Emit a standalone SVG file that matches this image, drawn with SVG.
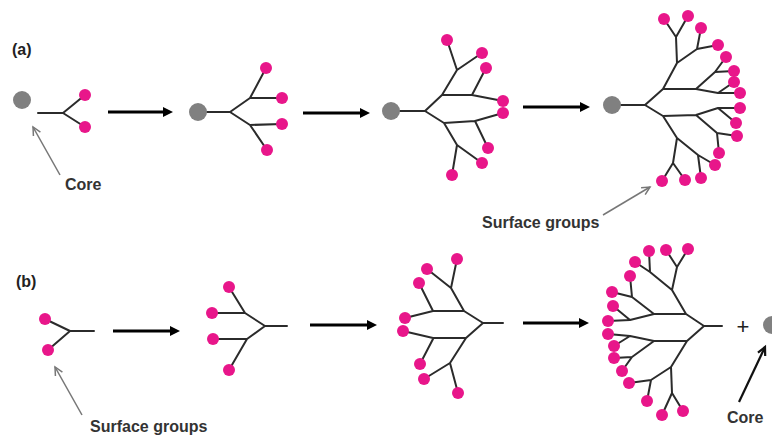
<svg xmlns="http://www.w3.org/2000/svg" width="772" height="435" viewBox="0 0 772 435">
<style>
.b{stroke:#2b2b2b;stroke-width:2;fill:none;stroke-linecap:round;stroke-linejoin:round}
.p{fill:#e8168a}
.c{fill:#808080}
.t{font-family:"Liberation Sans",Arial,sans-serif;font-weight:bold;font-size:16px;fill:#333}
.lbl{font-family:"Liberation Sans",Arial,sans-serif;font-weight:bold;font-size:16px;fill:#222}
.arr{stroke:#000;stroke-width:3;fill:none}
.ptr{stroke:#777;stroke-width:1.5;fill:none}
.ptrb{stroke:#111;stroke-width:2.2;fill:none}
</style>
<defs>
<marker id="ah" markerUnits="userSpaceOnUse" markerWidth="11" markerHeight="11" refX="0" refY="5.5" orient="auto">
<path d="M0,0.5 L10,5.5 L0,10.5 z" fill="#000"/>
</marker>
<marker id="ap" markerUnits="userSpaceOnUse" markerWidth="12" markerHeight="12" refX="9" refY="5" orient="auto">
<path d="M1,1 L9,5 L1,9" fill="none" stroke="#777" stroke-width="1.5"/>
</marker>
<marker id="apb" markerUnits="userSpaceOnUse" markerWidth="12" markerHeight="12" refX="9" refY="5" orient="auto">
<path d="M1,1 L9,5 L1,9" fill="none" stroke="#111" stroke-width="2.2"/>
</marker>
</defs>

<text class="lbl" x="12" y="55">(a)</text>
<text class="lbl" x="16" y="287">(b)</text>

<g id="a1">
<circle class="c" cx="22" cy="100" r="9"/>
<path class="b" d="M38,113 H63 L85,95 M63,113 L85,127"/>
<circle class="p" cx="85" cy="95" r="6"/><circle class="p" cx="85" cy="127" r="6"/>
</g>

<g id="a2">
<path class="b" d="M198,112 H230 L250,98 L266,68 M250,98 H282 M230,112 L250,125 L282,124 M250,125 L267,150"/>
<circle class="c" cx="198" cy="112" r="9"/>
<circle class="p" cx="266" cy="68" r="6"/><circle class="p" cx="282" cy="98" r="6"/><circle class="p" cx="282" cy="124" r="6"/><circle class="p" cx="267" cy="150" r="6"/>
</g>

<g id="a3">
<path class="b" d="M391,111 H425 L442,95 L457,70 L447,40 M457,70 L482,53 M442,95 H472 L486,68 M472,95 L503,101 M425,111 L444,123 L475,121 L503,113 M475,121 L488,148 M444,123 L457,145 L482,163 M457,145 L452,175"/>
<circle class="c" cx="391" cy="111" r="9"/>
<circle class="p" cx="447" cy="40" r="6"/><circle class="p" cx="482" cy="53" r="6"/><circle class="p" cx="486" cy="68" r="6"/><circle class="p" cx="503" cy="101" r="6"/>
<circle class="p" cx="503" cy="113" r="6"/><circle class="p" cx="488" cy="148" r="6"/><circle class="p" cx="482" cy="163" r="6"/><circle class="p" cx="452" cy="175" r="6"/>
</g>

<g id="a4">
<path class="b" d="M612,105 H645 L663,89 L677,63 L676,37 L664,19 M676,37 L688,16 M677,63 L697,49 L701,28 M697,49 L718,45 M663,89 L696,89 L715,72 L726,57 M715,72 L734,71 M696,89 L718,93 L734,82 M718,93 L740,93 M645,105 L663,116 L696,115 L718,108 L740,108 M718,108 L736,123 M696,115 L717,133 L737,136 M717,133 L719,153 M663,116 L677,138 L673,163 L662,181 M673,163 L685,180 M677,138 L698,155 L701,178 M698,155 L715,165"/>
<circle class="c" cx="612" cy="105" r="9"/>
<circle class="p" cx="664" cy="19" r="6"/><circle class="p" cx="688" cy="16" r="6"/><circle class="p" cx="701" cy="28" r="6"/><circle class="p" cx="718" cy="45" r="6"/>
<circle class="p" cx="726" cy="57" r="6"/><circle class="p" cx="734" cy="71" r="6"/><circle class="p" cx="734" cy="82" r="6"/><circle class="p" cx="740" cy="93" r="6"/>
<circle class="p" cx="740" cy="108" r="6"/><circle class="p" cx="736" cy="123" r="6"/><circle class="p" cx="737" cy="136" r="6"/><circle class="p" cx="719" cy="153" r="6"/>
<circle class="p" cx="715" cy="165" r="6"/><circle class="p" cx="701" cy="178" r="6"/><circle class="p" cx="685" cy="180" r="6"/><circle class="p" cx="662" cy="181" r="6"/>
</g>

<g id="b1">
<path class="b" d="M45,319 L70,331 L48,350 M70,331 H94"/>
<circle class="p" cx="45" cy="319" r="6"/><circle class="p" cx="48" cy="350" r="6"/>
</g>

<g id="b2">
<path class="b" d="M287,326 H265 L245,313 L229,287 M245,313 H212 M265,326 L247,339 H213 M247,339 L229,370"/>
<circle class="p" cx="229" cy="287" r="6"/><circle class="p" cx="212" cy="313" r="6"/><circle class="p" cx="213" cy="339" r="6"/><circle class="p" cx="229" cy="370" r="6"/>
</g>

<g id="b3">
<path class="b" d="M503,323 H483 L464,311 H433 L419,283 M433,311 L405,318 M464,311 L451,288 L457,259 M451,288 L427,269 M483,323 L466,338 H433 L403,331 M433,339 L420,364 M466,338 L450,363 L424,379 M450,363 L458,393"/>
<circle class="p" cx="457" cy="259" r="6"/><circle class="p" cx="427" cy="269" r="6"/><circle class="p" cx="419" cy="283" r="6"/><circle class="p" cx="405" cy="318" r="6"/>
<circle class="p" cx="403" cy="331" r="6"/><circle class="p" cx="420" cy="364" r="6"/><circle class="p" cx="424" cy="379" r="6"/><circle class="p" cx="458" cy="393" r="6"/>
</g>

<g id="b4">
<path class="b" d="M722,326 H704 L686,314 L672,290 L677,267 L666,250 M677,267 L688,249 M672,290 L650,272 L635,262 M650,272 L649,251 M686,314 H654 L632,297 L630,276 M632,297 L612,292 M654,314 L630,320 L613,306 M630,320 L608,321 M704,326 L687,341 H654 L630,336 L608,334 M630,336 L614,346 M654,341 L632,357 L614,358 M632,357 L622,371 M687,341 L671,367 L651,380 L629,383 M651,380 L647,401 M671,367 L672,393 L662,415 M672,393 L683,411"/>
<circle class="p" cx="666" cy="250" r="6"/><circle class="p" cx="688" cy="249" r="6"/><circle class="p" cx="635" cy="262" r="6"/><circle class="p" cx="649" cy="251" r="6"/>
<circle class="p" cx="630" cy="276" r="6"/><circle class="p" cx="612" cy="292" r="6"/><circle class="p" cx="613" cy="306" r="6"/><circle class="p" cx="608" cy="321" r="6"/>
<circle class="p" cx="608" cy="334" r="6"/><circle class="p" cx="614" cy="346" r="6"/><circle class="p" cx="614" cy="358" r="6"/><circle class="p" cx="622" cy="371" r="6"/>
<circle class="p" cx="629" cy="383" r="6"/><circle class="p" cx="647" cy="401" r="6"/><circle class="p" cx="662" cy="415" r="6"/><circle class="p" cx="683" cy="411" r="6"/>
</g>

<g id="plus">
<text x="743" y="334" text-anchor="middle" style="font-family:'Liberation Sans',Arial,sans-serif;font-size:22px;fill:#222">+</text>
</g>

<g id="core-b">
<circle class="c" cx="772" cy="325" r="9"/>
</g>

<g id="connectors">
<line class="arr" x1="108" y1="112" x2="163" y2="112" marker-end="url(#ah)"/>
<line class="arr" x1="303" y1="113" x2="360" y2="113" marker-end="url(#ah)"/>
<line class="arr" x1="523" y1="107" x2="580" y2="107" marker-end="url(#ah)"/>
<line class="arr" x1="113" y1="331" x2="170" y2="331" marker-end="url(#ah)"/>
<line class="arr" x1="310" y1="325" x2="367" y2="325" marker-end="url(#ah)"/>
<line class="arr" x1="523" y1="323" x2="579" y2="323" marker-end="url(#ah)"/>
<line class="ptr" x1="60" y1="175" x2="33" y2="127" marker-end="url(#ap)"/>
<line class="ptr" x1="603" y1="215" x2="650" y2="187" marker-end="url(#ap)"/>
<line class="ptr" x1="82" y1="415" x2="55" y2="367" marker-end="url(#ap)"/>
<line class="ptrb" x1="739" y1="402" x2="765" y2="347" marker-end="url(#apb)"/>
</g>

<g id="labels">
<text class="t" x="65" y="190">Core</text>
<text class="t" x="482" y="228">Surface groups</text>
<text class="t" x="90" y="432">Surface groups</text>
<text class="t" x="727" y="423">Core</text>
</g>
</svg>
